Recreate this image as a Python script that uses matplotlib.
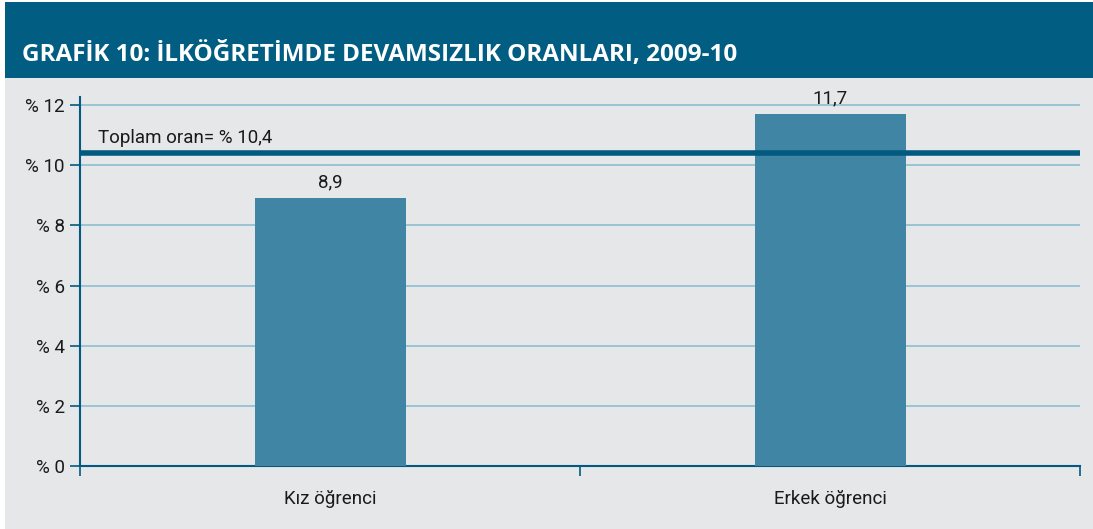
import matplotlib
matplotlib.use("Agg")
import matplotlib.pyplot as plt
from matplotlib.patches import Rectangle

categories = ["Kız öğrenci", "Erkek öğrenci"]
values = [8.9, 11.7]
value_labels = ["8,9", "11,7"]
total_rate = 10.4
total_label = "Toplam oran= % 10,4"
yticks = [0, 2, 4, 6, 8, 10, 12]
ytick_labels = ["% 0", "% 2", "% 4", "% 6", "% 8", "% 10", "% 12"]
title = "GRAFİK 10: İLKÖĞRETİMDE DEVAMSIZLIK ORANLARI, 2009-10"

W, H = 1093, 529
BAND = "#025d82"
BAR = "#4085a4"
BG = "#e6e7e9"
GRID = "#8dbdd0"
DARK = "#035a80"

fig = plt.figure(figsize=(W / 100, H / 100), dpi=100)
fig.patch.set_facecolor("white")
fig.add_artist(Rectangle((5 / W, 0), 1, 1 - 78 / H, transform=fig.transFigure,
                         facecolor=BG, edgecolor="none", zorder=0))
fig.add_artist(Rectangle((5 / W, 1 - 78 / H), 1, 76 / H, transform=fig.transFigure,
                         facecolor=BAND, edgecolor="none", zorder=0))
fig.text(22 / W, 1 - 55 / H, title, color="white", fontsize=17.5, fontweight="bold",
         family=["Open Sans", "DejaVu Sans"], va="center", ha="left")

fam = ["Liberation Sans Narrow", "Roboto", "DejaVu Sans"]
FS = 13.5

ax = fig.add_axes([80 / W, 63 / H, 1000 / W, 369 / H])
ax.set_facecolor("none")
x = list(range(len(categories)))
ax.bar(x, values, width=0.302, color=BAR, zorder=3)
for xi, v, lab in zip(x, values, value_labels):
    ax.text(xi, v + 0.22, lab, ha="center", va="bottom", fontsize=FS,
            family=fam, color="#1a1a1a")
ax.axhline(total_rate, color=DARK, lw=4, zorder=4)
ax.text(-0.465, total_rate + 0.22, total_label, ha="left", va="bottom",
        fontsize=FS, family=fam, color="#1a1a1a")

ax.set_xlim(-0.5, 1.5)
ax.set_ylim(0, 12.27)
ax.set_yticks(yticks)
ax.set_yticklabels(ytick_labels, family=fam, fontsize=FS, color="#1a1a1a")
ax.yaxis.grid(True, color=GRID, lw=1.2, zorder=1)
ax.set_axisbelow(True)
ax.set_xticks([-0.5, 0.5, 1.5])
ax.set_xticklabels([])
ax.set_xticks(x, minor=True)
ax.set_xticklabels(categories, minor=True, family=fam, fontsize=FS, color="#1a1a1a")
ax.tick_params(axis="x", which="minor", length=0, pad=17)
ax.tick_params(axis="x", which="major", length=7, color=DARK, width=1.2, direction="out")
ax.tick_params(axis="y", length=7, color=DARK, width=1.2, pad=4)
for s in ["top", "right"]:
    ax.spines[s].set_visible(False)
for s in ["left", "bottom"]:
    ax.spines[s].set_color(DARK)
    ax.spines[s].set_linewidth(1.5)

fig.savefig("out.png", dpi=100)
